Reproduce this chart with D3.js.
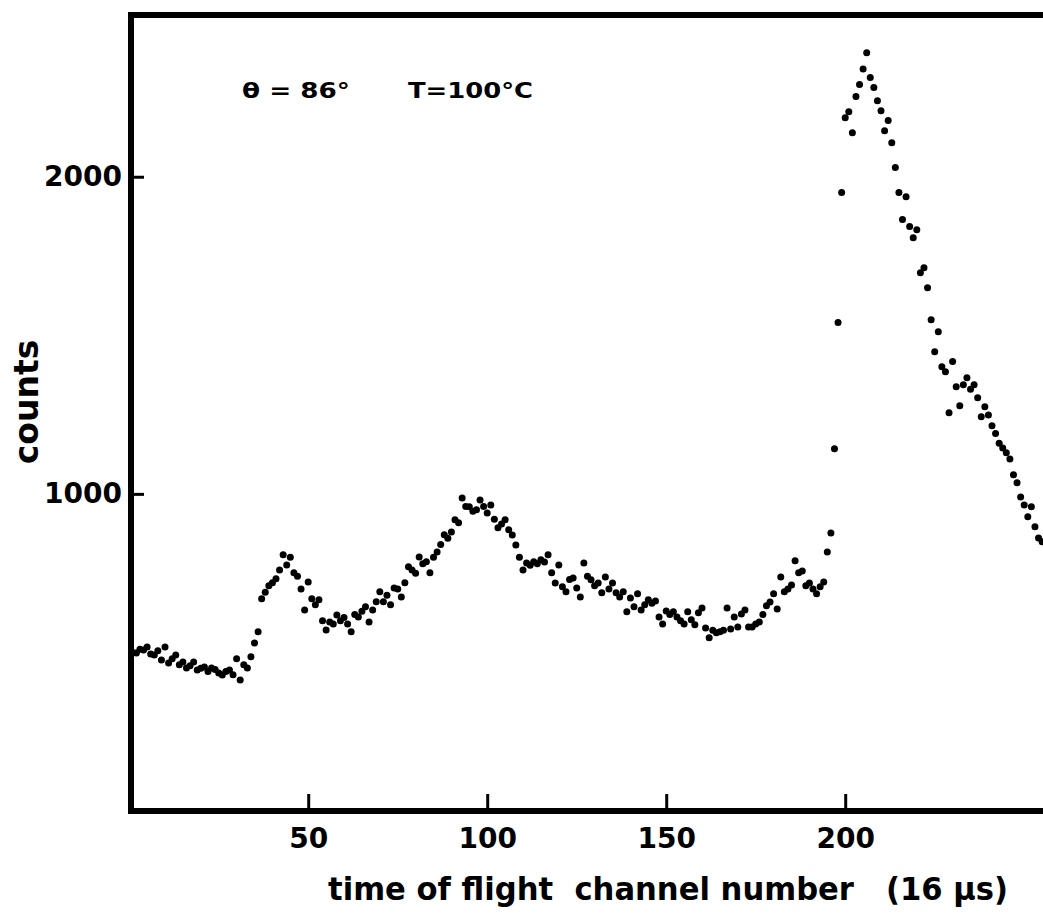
<!DOCTYPE html>
<html>
<head>
<meta charset="utf-8">
<script src="https://cdn.jsdelivr.net/npm/d3@7"></script>
<style>
  body { margin: 0; background: #fff; }
  svg text { font-family: "DejaVu Sans", sans-serif; font-weight: bold; fill: #000; }
</style>
</head>
<body>
<svg id="chart" width="1043" height="922"></svg>
<script>
// time of flight spectrum, one count value per channel starting at channel 1
const firstChannel = 1;
const counts = [
  500, 498, 510, 508, 517, 495, 492, 505, 476, 517,
  467, 480, 492, 461, 470, 451, 458, 470, 445, 450,
  454, 440, 451, 446, 435, 429, 440, 445, 430, 480,
  413, 461, 451, 486, 530, 565, 669, 690, 710, 720,
  732, 760, 808, 776, 800, 751, 740, 700, 634, 722,
  669, 650, 666, 600, 571, 596, 590, 618, 600, 610,
  590, 565, 620, 612, 630, 644, 596, 634, 660, 691,
  660, 680, 650, 703, 700, 675, 720, 770, 760, 750,
  801, 780, 786, 751, 800, 817, 840, 871, 860, 880,
  918, 909, 987, 960, 959, 945, 950, 981, 960, 940,
  965, 920, 893, 905, 918, 887, 870, 839, 800, 760,
  782, 775, 786, 780, 792, 785, 808, 751, 719, 776,
  707, 691, 730, 735, 703, 675, 782, 740, 729, 710,
  719, 688, 738, 700, 719, 688, 675, 691, 628, 672,
  644, 685, 634, 650, 666, 655, 662, 612, 590, 631,
  620, 628, 612, 600, 590, 628, 603, 587, 625, 640,
  577, 546, 570, 562, 565, 570, 640, 574, 612, 580,
  621, 634, 580, 580, 590, 596, 620, 647, 659, 685,
  637, 738, 691, 700, 713, 789, 751, 757, 710, 719,
  700, 685, 707, 722, 817, 877, 1142, 1540, 1950, 2186,
  2205, 2139, 2253, 2291, 2340, 2391, 2313, 2281, 2240, 2208,
  2145, 2177, 2107, 2029, 1950, 1865, 1937, 1843, 1808, 1833,
  1697, 1713, 1650, 1549, 1448, 1511, 1401, 1385, 1256, 1417,
  1338, 1278, 1344, 1366, 1330, 1344, 1303, 1243, 1275, 1249,
  1215, 1190, 1160, 1145, 1130, 1110, 1060, 1035, 990, 965,
  928, 959, 896, 861, 849
];

const xTicks = [50, 100, 150, 200];
const xTickLabels = ["50", "100", "150", "200"];
const yTicks = [1000, 2000];
const yTickLabels = ["1000", "2000"];

const xTitle = "time of flight  channel number   (16 μs)";
const yTitle = "counts";
const angleNote = "θ = 86°";
const tempNote = "T=100°C";

var svg = d3.select("#chart");

// plot box; the right edge runs off the picture
var boxLeft = 131, boxTop = 15, boxBottom = 811, boxRight = 1049;

var x = d3.scaleLinear().domain([0.5, 256.5]).range([boxLeft, boxLeft + 256 * 3.58]);
var y = d3.scaleLinear().domain([0, 2510]).range([boxBottom, boxTop]);

// points
var points = counts.map(function (c, i) { return { ch: firstChannel + i, c: c }; });

svg.append("g")
  .selectAll("circle")
  .data(points)
  .enter()
  .append("circle")
  .attr("cx", function (d) { return x(d.ch); })
  .attr("cy", function (d) { return y(d.c); })
  .attr("r", 3.5)
  .style("fill", "#000");

// x axis, ticks point up into the plot
var xAxis = svg.append("g")
  .attr("transform", "translate(0," + boxBottom + ")")
  .call(d3.axisBottom(x)
    .tickValues(xTicks)
    .tickFormat(function (d, i) { return xTickLabels[i]; })
    .tickSizeInner(-17)
    .tickSizeOuter(0)
    .tickPadding(17));
xAxis.select(".domain").remove();
xAxis.selectAll("line").attr("stroke", "#000").attr("stroke-width", 3);
xAxis.selectAll("text").attr("font-size", 28).attr("font-family", "DejaVu Sans").attr("font-weight", "bold");

// y axis, ticks point right into the plot
var yAxis = svg.append("g")
  .attr("transform", "translate(" + boxLeft + ",0)")
  .call(d3.axisLeft(y)
    .tickValues(yTicks)
    .tickFormat(function (d, i) { return yTickLabels[i]; })
    .tickSizeInner(-13)
    .tickSizeOuter(0)
    .tickPadding(9));
yAxis.select(".domain").remove();
yAxis.selectAll("line").attr("stroke", "#000").attr("stroke-width", 3);
yAxis.selectAll("text").attr("font-size", 28).attr("font-family", "DejaVu Sans").attr("font-weight", "bold");

// frame
svg.append("rect")
  .attr("x", boxLeft)
  .attr("y", boxTop)
  .attr("width", boxRight - boxLeft)
  .attr("height", boxBottom - boxTop)
  .style("fill", "none")
  .attr("stroke", "#000")
  .attr("stroke-width", 6);

// notes
svg.append("text")
  .attr("x", 242)
  .attr("y", 98)
  .attr("font-size", 22)
  .attr("textLength", 108)
  .attr("lengthAdjust", "spacingAndGlyphs")
  .text(angleNote);

svg.append("text")
  .attr("x", 408)
  .attr("y", 98)
  .attr("font-size", 22)
  .attr("textLength", 125)
  .attr("lengthAdjust", "spacingAndGlyphs")
  .text(tempNote);

// titles
svg.append("text")
  .attr("x", 328)
  .attr("y", 900)
  .attr("font-size", 32)
  .attr("textLength", 680)
  .attr("lengthAdjust", "spacingAndGlyphs")
  .style("white-space", "pre")
  .text(xTitle);

svg.append("text")
  .attr("transform", "translate(38,402) rotate(-90)")
  .attr("text-anchor", "middle")
  .attr("font-size", 33)
  .text(yTitle);
</script>
</body>
</html>
